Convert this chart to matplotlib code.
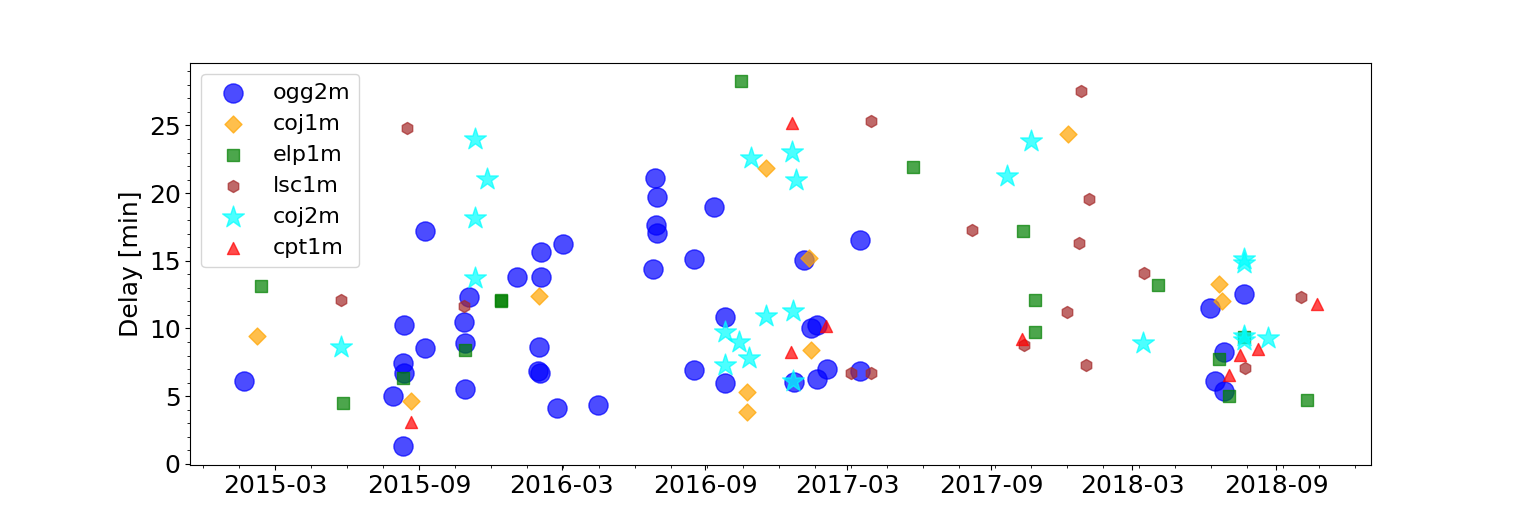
import numpy as np
import matplotlib
matplotlib.use("Agg")
import matplotlib.pyplot as plt
import matplotlib.dates as mdates

# observation dates and delays [min] per telescope
ogg2m_dates = ["2015-01-20", "2015-08-12", "2015-09-09", "2015-09-09", "2015-08-11",
               "2015-08-13", "2015-07-29", "2015-08-11", "2015-11-04", "2015-10-28",
               "2015-10-29", "2015-10-29", "2016-01-04", "2016-02-04", "2016-03-03",
               "2016-02-04", "2016-02-01", "2016-01-31", "2016-02-02", "2016-02-24",
               "2016-04-16", "2016-06-28", "2016-07-01", "2016-06-30", "2016-07-01",
               "2016-06-26", "2016-09-12", "2016-08-17", "2017-01-05", "2017-03-18",
               "2016-09-26", "2017-01-14", "2017-01-22", "2016-08-17", "2016-09-26",
               "2016-12-23", "2017-01-21", "2017-02-03", "2017-03-18", "2018-07-22",
               "2018-06-08", "2018-06-26", "2018-06-15", "2018-06-26"]
ogg2m_delay = [6.10, 10.24, 17.20, 8.57, 7.46, 6.72, 4.99, 1.29, 12.31, 10.47,
               8.93, 5.53, 13.79, 15.64, 16.21, 13.79, 8.62, 6.84, 6.72, 4.10,
               4.33, 21.12, 19.68, 17.64, 17.02, 14.39, 18.97, 15.13, 15.05, 16.53,
               10.84, 10.04, 10.27, 6.92, 5.95, 6.03, 6.25, 7.01, 6.84, 12.56,
               11.50, 8.25, 6.12, 5.38]

coj1m_dates = ["2015-02-06", "2015-08-21", "2016-02-01", "2016-11-18", "2017-01-12",
               "2017-01-14", "2016-10-24", "2016-10-24", "2017-12-09", "2018-06-20",
               "2018-06-24"]
coj1m_delay = [9.43, 4.62, 12.39, 21.86, 15.20, 8.39, 5.29, 3.81, 24.37, 13.30, 12.06]

elp1m_dates = ["2015-02-11", "2015-05-27", "2015-08-11", "2015-10-29", "2015-12-14",
               "2015-12-14", "2016-10-17", "2017-05-24", "2017-10-12", "2017-10-28",
               "2017-10-27", "2018-04-02", "2018-07-22", "2018-06-20", "2018-07-02",
               "2018-10-10"]
elp1m_delay = [13.13, 4.50, 6.35, 8.39, 12.09, 12.02, 28.29, 21.93, 17.20, 12.09,
               9.73, 13.20, 9.38, 7.75, 4.99, 4.72]

lsc1m_dates = ["2015-08-16", "2015-05-24", "2015-10-28", "2017-04-01", "2017-03-06",
               "2017-04-01", "2017-12-25", "2018-01-04", "2017-08-08", "2017-12-22",
               "2018-03-16", "2017-12-07", "2017-10-13", "2017-12-31", "2018-10-03",
               "2018-07-23"]
lsc1m_delay = [24.81, 12.09, 11.65, 25.33, 6.69, 6.69, 27.55, 19.56, 17.27, 16.31,
               14.09, 11.21, 8.81, 7.29, 12.32, 7.06]

coj2m_dates = ["2015-05-24", "2015-11-11", "2015-11-27", "2015-11-11", "2015-11-11",
               "2016-10-29", "2016-12-21", "2016-12-26", "2016-11-17", "2016-12-22",
               "2016-09-26", "2016-10-14", "2016-10-27", "2016-09-26", "2016-12-22",
               "2017-10-22", "2017-09-21", "2018-03-15", "2018-07-22", "2018-07-22",
               "2018-07-21", "2018-07-21", "2018-08-21"]
coj2m_delay = [8.62, 23.97, 21.07, 18.18, 13.74, 22.57, 23.04, 20.94, 10.95, 11.32,
               9.73, 9.03, 7.85, 7.31, 6.10, 23.88, 21.24, 8.93, 15.10, 14.85,
               9.43, 9.18, 9.28]

cpt1m_dates = ["2015-08-21", "2016-12-21", "2017-02-02", "2016-12-19", "2017-10-11",
               "2018-10-23", "2018-07-16", "2018-08-09", "2018-07-03"]
cpt1m_delay = [3.07, 25.17, 10.17, 8.29, 9.23, 11.84, 8.05, 8.51, 6.55]

series = [
    ("ogg2m", ogg2m_dates, ogg2m_delay, "o", "blue", 190),
    ("coj1m", coj1m_dates, coj1m_delay, "D", "orange", 75),
    ("elp1m", elp1m_dates, elp1m_delay, "s", "green", 75),
    ("lsc1m", lsc1m_dates, lsc1m_delay, "h", "brown", 75),
    ("coj2m", coj2m_dates, coj2m_delay, "*", "cyan", 270),
    ("cpt1m", cpt1m_dates, cpt1m_delay, "^", "red", 75),
]

fig, ax = plt.subplots(figsize=(15.23, 5.22), dpi=100)

for name, d, v, m, c, s in series:
    ax.scatter(np.array(d, dtype="datetime64[D]"), v, marker=m, color=c,
               s=s, alpha=0.7, label=name)

ax.xaxis.set_major_locator(mdates.MonthLocator(bymonth=[3, 9]))
ax.xaxis.set_major_formatter(mdates.DateFormatter("%Y-%m"))
ax.minorticks_on()
ax.tick_params(labelsize=18)
ax.set_ylabel("Delay [min]", fontsize=18)
ax.legend(loc="upper left", fontsize=16)

fig.savefig("out.png")
